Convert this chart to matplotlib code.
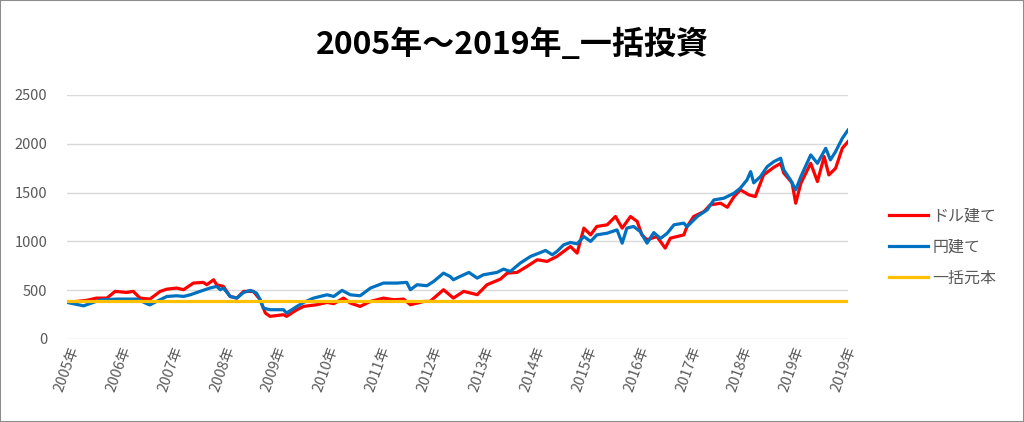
import matplotlib
matplotlib.use('Agg')
import matplotlib.pyplot as plt
from matplotlib.patches import Rectangle

plt.rcParams['font.family'] = ['Noto Sans CJK JP', 'DejaVu Sans']

# x = years since the start of 2005
usd_x = [0.00, 0.38, 0.57, 0.77, 0.93, 1.15, 1.28, 1.41, 1.60, 1.80, 1.93, 2.12,
         2.25, 2.44, 2.63, 2.70, 2.83, 2.89, 3.02, 3.15, 3.28, 3.41, 3.60, 3.73,
         3.83, 3.92, 4.18, 4.24, 4.44, 4.57, 4.82, 5.02, 5.15, 5.34, 5.47, 5.66,
         5.86, 6.11, 6.31, 6.50, 6.63, 6.89, 7.01, 7.27, 7.46, 7.66, 7.92, 8.11,
         8.37, 8.50, 8.69, 8.88, 9.08, 9.27, 9.46, 9.72, 9.85, 9.98, 10.11, 10.23,
         10.43, 10.59, 10.72, 10.88, 11.01, 11.10, 11.20, 11.39, 11.55, 11.65,
         11.91, 11.97, 12.10, 12.30, 12.42, 12.62, 12.75, 12.88, 13.00, 13.17,
         13.29, 13.45, 13.65, 13.78, 13.84, 14.00, 14.07, 14.17, 14.36, 14.49,
         14.62, 14.71, 14.84, 14.97, 15.08]
usd_y = [375, 396, 419, 419, 488, 477, 488, 419, 409, 488, 511, 522,
         505, 573, 580, 556, 607, 556, 539, 436, 419, 488, 488, 402,
         266, 232, 249, 232, 300, 334, 351, 375, 362, 419, 368, 334,
         385, 419, 402, 409, 351, 385, 385, 505, 419, 488, 454, 556,
         614, 675, 682, 743, 812, 795, 846, 948, 880, 1136, 1067, 1153,
         1170, 1255, 1136, 1255, 1204, 1067, 1016, 1050, 931, 1033,
         1067, 1150, 1255, 1306, 1374, 1391, 1350, 1459, 1528, 1476,
         1459, 1681, 1760, 1800, 1700, 1600, 1391, 1596, 1800, 1613,
         1869, 1681, 1749, 1954, 2022]

jpy_x = [0.00, 0.32, 0.51, 0.64, 0.96, 1.35, 1.54, 1.60, 1.73, 1.93, 2.12, 2.25,
         2.38, 2.57, 2.76, 2.89, 2.96, 3.02, 3.15, 3.28, 3.41, 3.54, 3.66, 3.73,
         3.79, 3.92, 4.18, 4.24, 4.44, 4.57, 4.76, 5.02, 5.15, 5.31, 5.47, 5.66,
         5.86, 6.11, 6.37, 6.56, 6.63, 6.76, 6.95, 7.08, 7.27, 7.40, 7.46, 7.59,
         7.76, 7.92, 8.04, 8.30, 8.43, 8.56, 8.75, 8.95, 9.08, 9.24, 9.37, 9.46,
         9.59, 9.72, 9.85, 9.98, 10.11, 10.23, 10.43, 10.62, 10.72, 10.81, 10.94,
         11.07, 11.20, 11.33, 11.46, 11.59, 11.72, 11.91, 11.97, 12.17, 12.36,
         12.49, 12.68, 12.88, 13.00, 13.13, 13.20, 13.26, 13.39, 13.52, 13.65,
         13.78, 13.84, 13.97, 14.07, 14.17, 14.36, 14.49, 14.65, 14.74, 14.84,
         14.97, 15.08]
jpy_y = [375, 340, 375, 400, 409, 409, 362, 350, 385, 436, 443, 436,
         453, 488, 522, 539, 505, 522, 436, 419, 477, 498, 470, 402,
         317, 300, 300, 266, 334, 375, 419, 453, 436, 498, 453, 443,
         522, 573, 573, 580, 505, 556, 546, 590, 675, 640, 607, 641,
         682, 624, 658, 682, 716, 692, 777, 846, 873, 907, 863, 897,
         965, 989, 975, 1050, 1000, 1067, 1084, 1118, 982, 1136, 1153,
         1100, 982, 1090, 1030, 1084, 1170, 1187, 1150, 1255, 1323,
         1425, 1442, 1494, 1545, 1630, 1715, 1600, 1664, 1766, 1818,
         1852, 1732, 1630, 1528, 1664, 1886, 1800, 1954, 1835, 1920,
         2056, 2141]

principal_x = [0.0, 15.08]
principal_y = [385, 385]

tick_pos = list(range(16))
tick_labels = ['2005年', '2006年', '2007年', '2008年', '2009年', '2010年', '2011年',
               '2012年', '2013年', '2014年', '2015年', '2016年', '2017年', '2018年',
               '2019年', '2019年']


def main():
    fig = plt.figure(figsize=(10.24, 4.22), dpi=100)
    ax = fig.add_axes([67 / 1024, 1 - 339 / 422, (848 - 67) / 1024, (339 - 95) / 422])

    ax.plot(usd_x, usd_y, color='#FF0000', lw=2.3, label='ドル建て', zorder=3)
    ax.plot(jpy_x, jpy_y, color='#0070C0', lw=2.3, label='円建て', zorder=4)
    ax.plot(principal_x, principal_y, color='#FFC000', lw=2.3, label='一括元本', zorder=5)

    ax.set_xlim(0, 15.08)
    ax.set_ylim(0, 2500)
    ax.set_yticks([0, 500, 1000, 1500, 2000, 2500])
    ax.set_xticks(tick_pos)
    ax.set_xticklabels(tick_labels, rotation=70, ha='center', va='top')
    ax.tick_params(axis='both', length=0, colors='#595959', labelsize=10.5)
    ax.tick_params(axis='x', pad=4)
    ax.tick_params(axis='y', pad=14)
    ax.grid(axis='y', color='#D9D9D9', lw=1)
    ax.set_axisbelow(True)
    for s in ax.spines.values():
        s.set_visible(False)

    fig.text(0.5, 1 - 45 / 422, '2005年～2019年_一括投資', ha='center', va='center',
             fontsize=23, fontweight='bold', color='black')

    fig.legend(loc='center left', bbox_to_anchor=(875 / 1024, 1 - 247 / 422),
               frameon=False, fontsize=11.5, handlelength=2.4, handletextpad=0.3,
               labelspacing=0.9, labelcolor='#595959')

    fig.patches.append(Rectangle((0, 0), 1, 1, transform=fig.transFigure,
                                 fill=False, ec='#8C8C8C', lw=1.5))

    fig.savefig('out.png', dpi=100)


if __name__ == "__main__":
    main()
